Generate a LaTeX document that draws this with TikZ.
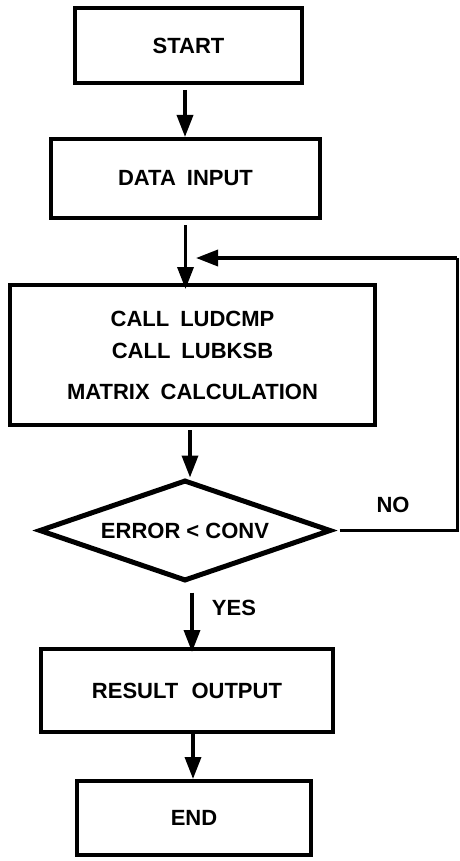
\documentclass[tikz,border=0pt]{standalone}
\usepackage{fontspec}
\setmainfont{Liberation Sans}
\usetikzlibrary{arrows.meta,shapes.geometric}

\begin{document}
\begin{tikzpicture}[x=1pt,y=-1pt,
  every node/.style={font=\fontsize{22}{32}\selectfont\bfseries, inner sep=0pt},
  stepbox/.style={draw, line width=4pt, rectangle, align=center},
  test/.style={draw, line width=5pt, diamond, aspect=2.9},
  flow/.style={line width=3.5pt, -{Triangle[length=22pt,width=16pt]}},
  wire/.style={line width=3pt}
]
  % frame of the page
  \useasboundingbox (0,0) rectangle (459,861);

  % process steps
  \node[stepbox, minimum width=227pt, minimum height=75pt] (start) at (188.5,45.5) {START};
  \node[stepbox, minimum width=269pt, minimum height=79pt] (input) at (185.5,178.5) {DATA\hspace{0.5em}INPUT};
  \node[stepbox, minimum width=365pt, minimum height=140pt] (calc) at (192.5,355)
    {CALL\hspace{0.5em}LUDCMP\\ CALL\hspace{0.5em}LUBKSB\\[9pt] MATRIX\hspace{0.5em}CALCULATION};
  \node[test, minimum width=292pt, minimum height=101pt] (check) at (185,530.5) {ERROR < CONV};
  \node[stepbox, minimum width=292pt, minimum height=83pt] (output) at (187,690.5) {RESULT\hspace{0.6em}OUTPUT};
  \node[stepbox, minimum width=234pt, minimum height=74pt] (finish) at (194,818) {END};

  % branch labels
  \node (no) at (393,505) {NO};
  \node (yes) at (234,608) {YES};

  % loop-back route
  \coordinate (loopin) at (185,258);
  \coordinate (corner) at (457,528);

  % main flow
  \draw[flow] ([xshift=-3.5pt,yshift=-5pt]start.south) -- ([xshift=-3.5pt]start.south |- input.north);
  \draw[flow] ([yshift=-5pt]input.south) -- ([yshift=-6pt]input.south |- calc.north);
  \draw[flow] ([xshift=-2.5pt,yshift=-3pt]calc.south) -- ([xshift=-2.5pt]calc.south |- check.north);
  \draw[flow] ([xshift=7pt,yshift=-9pt]check.south) -- ([xshift=7pt,yshift=-5pt]check.south |- output.north);
  \draw[flow] ([xshift=6pt]output.south) -- ([xshift=6pt]output.south |- finish.north);

  % NO branch back to the top of the calculation
  \draw[wire] ([xshift=6pt]check.east) -- (corner |- check.east) -- (corner |- loopin);
  \draw[flow] (corner |- loopin) -- ([xshift=11pt]loopin);
\end{tikzpicture}
\end{document}
